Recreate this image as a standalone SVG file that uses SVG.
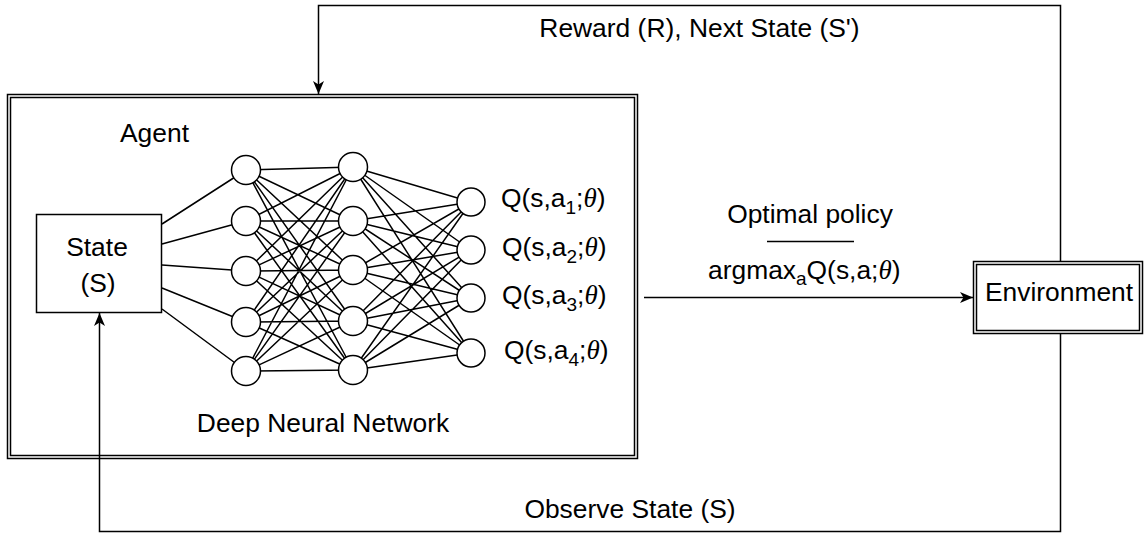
<svg xmlns="http://www.w3.org/2000/svg" width="1146" height="533" viewBox="0 0 1146 533">
  <style>
    .ln { stroke: #000; stroke-width: 1.5; fill: none; }
    .box { stroke: #000; stroke-width: 1.5; fill: #fff; }
    .nd { stroke: #000; stroke-width: 1.5; fill: #fff; }
    .t { font-family: "Liberation Sans", Arial, sans-serif; font-size: 26.4px; fill: #000; }
    .th { font-family: "Liberation Serif", "Times New Roman", serif; font-style: italic; font-size: 27px; }
    .sub { font-size: 19px; }
  </style>
  <defs>
    <marker id="arrow" markerUnits="userSpaceOnUse" markerWidth="14" markerHeight="12" refX="13" refY="6" orient="auto">
      <path d="M0,0.5 L13,6 L0,11.5 L3.5,6 Z" fill="#000"/>
    </marker>
  </defs>

  <rect width="1146" height="533" fill="#fff"/>

  <!-- Agent container (double border) -->
  <g id="agent">
    <rect class="box" x="7.5" y="94.5" width="630" height="364"/>
    <rect class="ln" x="10.5" y="97.5" width="624" height="358"/>
    <text class="t" x="120" y="142">Agent</text>
    <text class="t" x="323" y="432" text-anchor="middle">Deep Neural Network</text>
  </g>

  <!-- Environment (double border) -->
  <g id="environment">
    <rect class="box" x="973.5" y="261.5" width="169" height="72"/>
    <rect class="ln" x="976.5" y="264.5" width="163" height="66"/>
    <text class="t" x="1059" y="301" text-anchor="middle">Environment</text>
  </g>

  <!-- Network wiring: input fan-out, hidden-to-hidden, hidden-to-output -->
  <g id="network-edges" class="ln">
    <path d="M162,224 L246,170 M162,244 L246,221 M162,265 L246,271 M162,288 L246,322 M162,309 L246,371"/>
    <path d="M246,170 L353,167 M246,170 L353,221 M246,170 L353,270 M246,170 L353,321 M246,170 L353,370
             M246,221 L353,167 M246,221 L353,221 M246,221 L353,270 M246,221 L353,321 M246,221 L353,370
             M246,271 L353,167 M246,271 L353,221 M246,271 L353,270 M246,271 L353,321 M246,271 L353,370
             M246,322 L353,167 M246,322 L353,221 M246,322 L353,270 M246,322 L353,321 M246,322 L353,370
             M246,371 L353,167 M246,371 L353,221 M246,371 L353,270 M246,371 L353,321 M246,371 L353,370"/>
    <path d="M353,167 L471,202 M353,167 L471,250 M353,167 L471,298 M353,167 L471,353
             M353,221 L471,202 M353,221 L471,250 M353,221 L471,298 M353,221 L471,353
             M353,270 L471,202 M353,270 L471,250 M353,270 L471,298 M353,270 L471,353
             M353,321 L471,202 M353,321 L471,250 M353,321 L471,298 M353,321 L471,353
             M353,370 L471,202 M353,370 L471,250 M353,370 L471,298 M353,370 L471,353"/>
  </g>

  <!-- State input -->
  <g id="state">
    <rect class="box" x="36.5" y="214.5" width="125" height="98"/>
    <text class="t" x="97" y="256" text-anchor="middle">State</text>
    <text class="t" x="98" y="292" text-anchor="middle">(S)</text>
  </g>

  <!-- Hidden layer 1 -->
  <g id="hidden-1">
    <circle class="nd" cx="246" cy="170" r="14.5"/>
    <circle class="nd" cx="246" cy="221" r="14.5"/>
    <circle class="nd" cx="246" cy="271" r="14.5"/>
    <circle class="nd" cx="246" cy="322" r="14.5"/>
    <circle class="nd" cx="246" cy="371" r="14.5"/>
  </g>

  <!-- Hidden layer 2 -->
  <g id="hidden-2">
    <circle class="nd" cx="353" cy="167" r="14.5"/>
    <circle class="nd" cx="353" cy="221" r="14.5"/>
    <circle class="nd" cx="353" cy="270" r="14.5"/>
    <circle class="nd" cx="353" cy="321" r="14.5"/>
    <circle class="nd" cx="353" cy="370" r="14.5"/>
  </g>

  <!-- Output layer with Q-values -->
  <g id="output">
    <circle class="nd" cx="471" cy="202" r="14"/>
    <circle class="nd" cx="471" cy="250" r="14"/>
    <circle class="nd" cx="471" cy="298" r="14"/>
    <circle class="nd" cx="471" cy="353" r="14"/>
    <text class="t" x="501" y="207">Q(s,a<tspan class="sub" dy="7">1</tspan><tspan dy="-7">;</tspan><tspan class="th">θ</tspan>)</text>
    <text class="t" x="502" y="256">Q(s,a<tspan class="sub" dy="7">2</tspan><tspan dy="-7">;</tspan><tspan class="th">θ</tspan>)</text>
    <text class="t" x="502" y="304">Q(s,a<tspan class="sub" dy="7">3</tspan><tspan dy="-7">;</tspan><tspan class="th">θ</tspan>)</text>
    <text class="t" x="504" y="359">Q(s,a<tspan class="sub" dy="7">4</tspan><tspan dy="-7">;</tspan><tspan class="th">θ</tspan>)</text>
  </g>

  <!-- Feedback and action connectors -->
  <g id="connectors">
    <path class="ln" d="M644,297.5 L973,297.5" marker-end="url(#arrow)"/>
    <path class="ln" d="M1060.5,261 V5.5 H318.5 V94" marker-end="url(#arrow)"/>
    <path class="ln" d="M1060.5,334 V531.5 H99.5 V313" marker-end="url(#arrow)"/>
    <text class="t" x="699.5" y="37" text-anchor="middle">Reward (R), Next State (S')</text>
    <text class="t" x="630" y="518" text-anchor="middle">Observe State (S)</text>
    <text class="t" x="810" y="223" text-anchor="middle">Optimal policy</text>
    <line class="ln" x1="767" y1="241.5" x2="854" y2="241.5"/>
    <text class="t" x="708" y="279">argmax<tspan class="sub" dy="6">a</tspan><tspan dy="-6">Q(s,a;</tspan><tspan class="th">θ</tspan>)</text>
  </g>
</svg>
